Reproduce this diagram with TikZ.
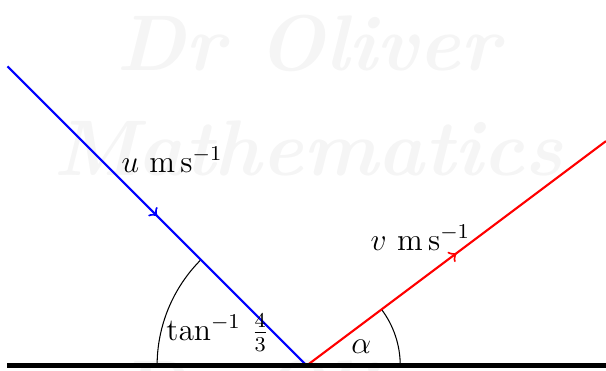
\documentclass[tikz,border=0pt]{standalone}
\usetikzlibrary{decorations.markings}
\begin{document}
\begin{tikzpicture}[
  midarrow/.style={postaction={decorate},decoration={markings,mark=at position 0.5 with {\arrow{>}}}},
  wm/.style={text=black!4,font=\fontsize{30}{36}\selectfont\bfseries\itshape},
  lbl/.style={font=\large}
]
\useasboundingbox (-4.1,-0.06) rectangle (4.0,4.886);
% watermark
\node[wm] (w1) at (0.02,4.3) {Dr Oliver};
\node[wm] (w2) at (0.02,2.9) {Mathematics};
\node[wm] (w3) at (0.02,-0.3) {Dr Oliver};
% points
\coordinate (A) at (-4,4);
\coordinate (O) at (0,0);
\coordinate (B) at (4,3);
\coordinate (G1) at (-4,0);
\coordinate (G2) at (4,0);
% arcs
\draw (-2,0) arc[start angle=180,end angle=135,radius=2];
\draw (1.25,0) arc[start angle=0,end angle=36.87,radius=1.25];
% lines
\draw[blue,thick,midarrow] (A) -- (O);
\draw[red,thick,midarrow] (O) -- (B);
\draw[ultra thick] (G1) -- (G2);
% labels
\node[lbl] (lu) at (-1.8,2.75) {$u\ \mathrm{m\,s^{-1}}$};
\node[lbl] (lv) at (1.52,1.71) {$v\ \mathrm{m\,s^{-1}}$};
\node[lbl] (lt) at (-1.19,0.44) {$\tan^{-1}\,\frac{4}{3}$};
\node[lbl] (la) at (0.73,0.25) {$\alpha$};
\end{tikzpicture}
\end{document}
